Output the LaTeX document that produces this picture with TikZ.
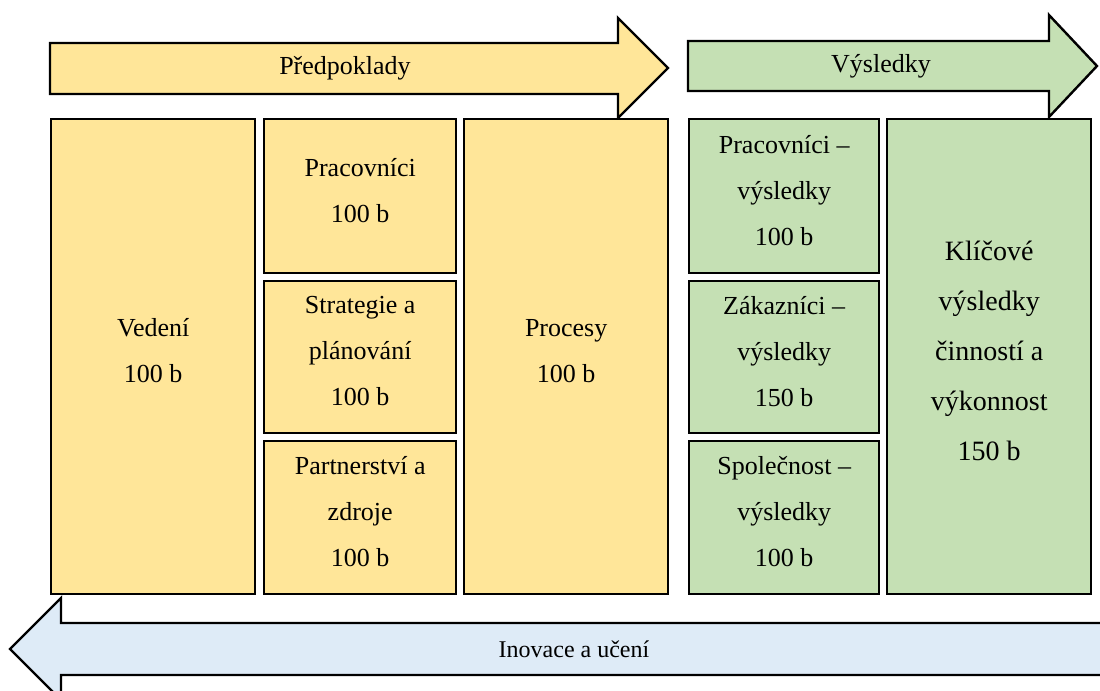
\documentclass[tikz,border=0pt]{standalone}
\usepackage{fontspec}
\setmainfont{Liberation Serif}
\definecolor{predpokladybarva}{HTML}{FFE699}
\definecolor{vysledkybarva}{HTML}{C5E0B4}
\definecolor{inovacebarva}{HTML}{DEEBF7}

\begin{document}
\begin{tikzpicture}
        [x=0.5pt,y=-0.5pt,
         obal/.style={draw=black,line width=1.2pt},
         kriterium/.style={obal,inner sep=0pt,align=center,anchor=north west,
                           text depth=6pt,font=\fontsize{13}{23}\selectfont},
         popis/.style={font=\fontsize{13}{16}\selectfont}]
        \useasboundingbox (0,0) rectangle (1100,691);
        % sipky
        \draw[obal,fill=predpokladybarva] (50,43) -- (618,43) -- (618,18) -- (668,68)
            -- (618,118) -- (618,94) -- (50,94) -- cycle;
        \node[popis] (predpoklady) at (345,68) {Předpoklady};
        \draw[obal,fill=vysledkybarva] (688,41) -- (1049,41) -- (1049,15) -- (1097,66)
            -- (1049,117) -- (1049,91) -- (688,91) -- cycle;
        \node[popis] (vysledky) at (881,66) {Výsledky};
        \draw[obal,fill=inovacebarva] (1110,623) -- (61,623) -- (61,598) -- (10,649)
            -- (61,700) -- (61,675) -- (1110,675) -- cycle;
        \node[popis,font=\fontsize{12}{15}\selectfont] (inovace) at (574,649) {Inovace a učení};
        % kriteria - predpoklady
        \node[kriterium,fill=predpokladybarva,minimum width=102pt,minimum height=237.5pt]
            (vedeni) at (50,118) {Vedení\\100 b};
        \node[kriterium,fill=predpokladybarva,minimum width=96pt,minimum height=77pt]
            (pracovnici) at (263,118) {Pracovníci\\100 b};
        \node[kriterium,fill=predpokladybarva,minimum width=96pt,minimum height=76pt]
            (strategie) at (263,280) {Strategie a\\plánování\\100 b};
        \node[kriterium,fill=predpokladybarva,minimum width=96pt,minimum height=76.5pt]
            (partnerstvi) at (263,440) {Partnerství a\\zdroje\\100 b};
        \node[kriterium,fill=predpokladybarva,minimum width=102pt,minimum height=237.5pt]
            (procesy) at (463,118) {Procesy\\100 b};
        % kriteria - vysledky
        \node[kriterium,fill=vysledkybarva,minimum width=95pt,minimum height=77pt]
            (pracovnicivysl) at (688,118) {Pracovníci --\\výsledky\\100 b};
        \node[kriterium,fill=vysledkybarva,minimum width=95pt,minimum height=76pt]
            (zakaznicivysl) at (688,280) {Zákazníci --\\výsledky\\150 b};
        \node[kriterium,fill=vysledkybarva,minimum width=95pt,minimum height=76.5pt]
            (spolecnostvysl) at (688,440) {Společnost --\\výsledky\\100 b};
        \node[kriterium,fill=vysledkybarva,minimum width=102pt,minimum height=237.5pt,
              font=\fontsize{14}{25}\selectfont]
            (klicove) at (886,118) {Klíčové\\výsledky\\činností a\\výkonnost\\150 b};
    \end{tikzpicture}
\end{document}
